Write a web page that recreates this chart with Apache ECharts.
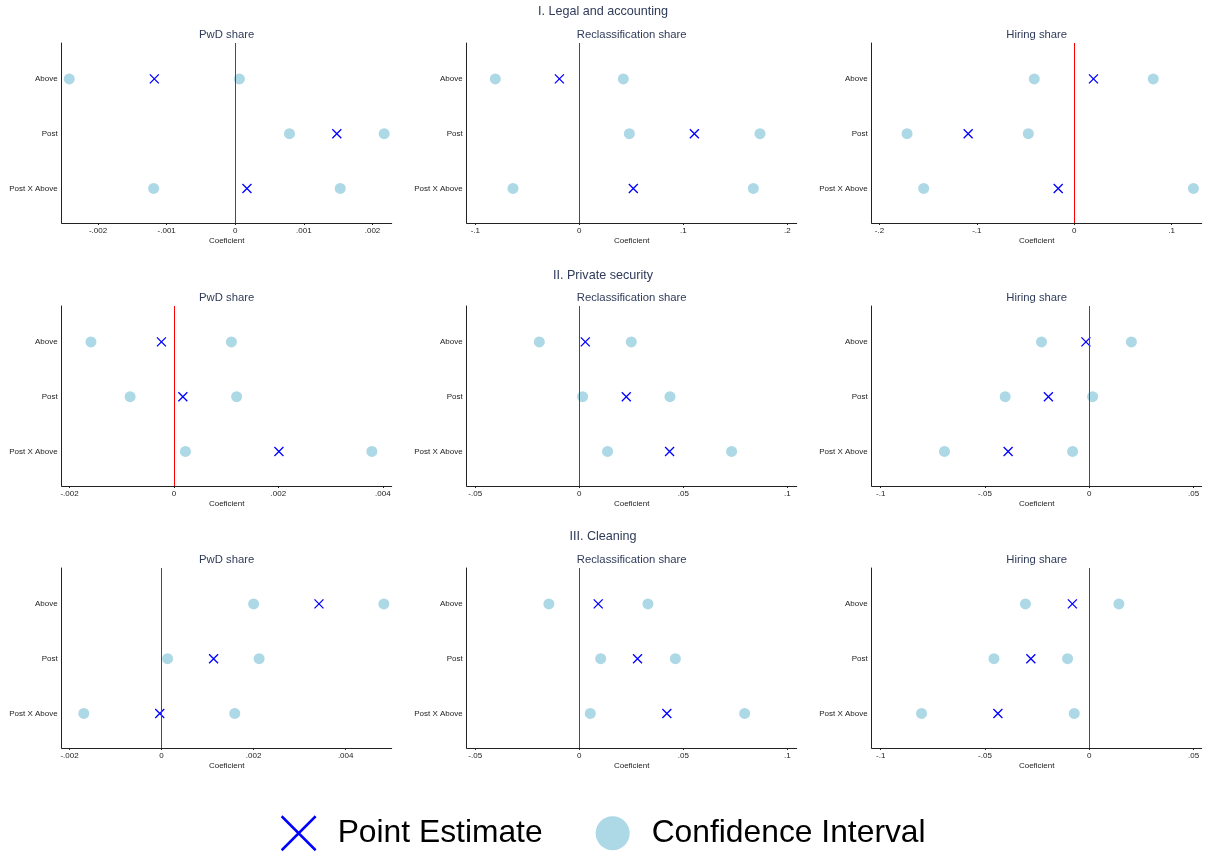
<!DOCTYPE html>
<html>
<head>
<meta charset="utf-8">
<title>Coefficient plots</title>
<script src="https://cdn.jsdelivr.net/npm/echarts@6/dist/echarts.min.js"></script>
<style>
  html, body { margin: 0; padding: 0; background: #fff; }
  #main { width: 1206px; height: 854px; }
</style>
</head>
<body>
<div id="main"></div>
<script>
// 行标签 / 标题
const categories = ['Above', 'Post', 'Post X Above']
const sections = ['I. Legal and accounting', 'II. Private security', 'III. Cleaning']
const outcomes = ['PwD share', 'Reclassification share', 'Hiring share']

// 每个分类: [下限, 点估计, 上限]
const legalPwd = [[-0.00242, -0.00118, 0.00006], [0.00079, 0.00148, 0.00217], [-0.00119, 0.00017, 0.00153]]
const legalReclass = [[-0.0808, -0.0192, 0.0423], [0.0481, 0.1106, 0.1737], [-0.0638, 0.0519, 0.1673]]
const legalHiring = [[-0.041, 0.0198, 0.0812], [-0.1717, -0.1089, -0.0471], [-0.1546, -0.0164, 0.1225]]
const securityPwd = [[-0.00159, -0.00024, 0.0011], [-0.00084, 0.00017, 0.0012], [0.00022, 0.00201, 0.00379]]
const securityReclass = [[-0.0192, 0.0029, 0.025], [0.0016, 0.0226, 0.0436], [0.0136, 0.0434, 0.0732]]
const securityHiring = [[-0.0229, -0.0016, 0.0202], [-0.0403, -0.0196, 0.0016], [-0.0694, -0.0389, -0.008]]
const cleaningPwd = [[0.002, 0.00342, 0.00483], [0.00013, 0.00113, 0.00212], [-0.00169, -0.00004, 0.00159]]
const cleaningReclass = [[-0.0146, 0.0091, 0.033], [0.0103, 0.028, 0.0462], [0.0053, 0.0421, 0.0795]]
const cleaningHiring = [[-0.0306, -0.0081, 0.0142], [-0.0457, -0.028, -0.0104], [-0.0804, -0.0438, -0.0072]]

// x 轴刻度
const ticksLegalPwd = [-0.002, -0.001, 0, 0.001, 0.002]
const ticksLegalReclass = [-0.1, 0, 0.1, 0.2]
const ticksLegalHiring = [-0.2, -0.1, 0, 0.1]
const ticksPwd = [-0.002, 0, 0.002, 0.004]
const ticksReclass = [-0.05, 0, 0.05, 0.1]
const ticksHiring = [-0.1, -0.05, 0, 0.05]

const panelData = [
  legalPwd, legalReclass, legalHiring,
  securityPwd, securityReclass, securityHiring,
  cleaningPwd, cleaningReclass, cleaningHiring
]
const panelTicks = [
  ticksLegalPwd, ticksLegalReclass, ticksLegalHiring,
  ticksPwd, ticksReclass, ticksHiring,
  ticksPwd, ticksReclass, ticksHiring
]
// x 轴范围 (Stata 会在刻度外留一点)
const panelRange = [
  [-0.00253, 0.00228], [-0.1083, 0.209], [-0.208, 0.131],
  [-0.00215, 0.00417], [-0.0541, 0.1045], [-0.1043, 0.0539],
  [-0.00217, 0.0050], [-0.0541, 0.1045], [-0.1043, 0.0539]
]

const FONT = 'Arial, "Liberation Sans", sans-serif'
const TITLE_COLOR = '#2f3b59'
const rowTop = [43, 306, 568]
const colLeft = [61.7, 466.7, 871.7]
const PLOT_W = 330
const PLOT_H = 180
const X_PATH = 'path://M0,0L10,10M10,0L0,10'

const fmt = function (v) {
  if (v === 0) return '0'
  return String(Number(v.toPrecision(4))).replace(/^(-?)0\./, '$1.')
}

const grid = []
const xAxis = []
const yAxis = []
const series = []
const title = []

panelData.forEach((rows, i) => {
  const r = Math.floor(i / 3)
  const c = i % 3
  grid.push({
    left: colLeft[c], top: rowTop[r], width: PLOT_W, height: PLOT_H,
    containLabel: false, outerBoundsMode: 'none'
  })
  xAxis.push({
    type: 'value', gridIndex: i,
    min: panelRange[i][0], max: panelRange[i][1],
    name: 'Coeficient', nameLocation: 'middle', nameGap: 14,
    nameTextStyle: { fontSize: 8, color: '#222', fontFamily: FONT },
    axisLine: { show: true, onZero: false, lineStyle: { color: '#222', width: 1 } },
    axisTick: { show: true, length: 2, customValues: panelTicks[i], lineStyle: { color: '#222' } },
    axisLabel: { customValues: panelTicks[i], formatter: fmt, fontSize: 8, color: '#222', margin: 4, fontFamily: FONT },
    splitLine: { show: false }
  })
  yAxis.push({
    type: 'value', gridIndex: i, inverse: true,
    min: 0.345, max: 3.63,
    axisLine: { show: true, onZero: false, lineStyle: { color: '#222', width: 1 } },
    axisTick: { show: false },
    axisLabel: {
      customValues: [1, 2, 3],
      formatter: v => categories[v - 1],
      fontSize: 8, color: '#222', margin: 4, fontFamily: FONT
    },
    splitLine: { show: false }
  })

  // 零线
  series.push({
    type: 'scatter', xAxisIndex: i, yAxisIndex: i, z: 1,
    data: [],
    silent: true,
    markLine: {
      silent: true, symbol: ['none', 'none'],
      label: { show: false },
      lineStyle: { color: '#ff0000', width: 1, type: 'solid' },
      emphasis: { disabled: true },
      data: [{ xAxis: 0 }]
    }
  })

  const ci = []
  const est = []
  rows.forEach((row, k) => {
    ci.push([row[0], k + 1], [row[2], k + 1])
    est.push([row[1], k + 1])
  })
  series.push({
    name: 'Confidence Interval', type: 'scatter', xAxisIndex: i, yAxisIndex: i, z: 2,
    symbol: 'circle', symbolSize: 11,
    itemStyle: { color: '#add8e6', opacity: 1 },
    emphasis: { disabled: true },
    data: ci
  })
  series.push({
    name: 'Point Estimate', type: 'scatter', xAxisIndex: i, yAxisIndex: i, z: 3,
    symbol: X_PATH, symbolSize: 9,
    itemStyle: { color: 'rgba(0,0,0,0)', borderColor: '#0000ff', borderWidth: 1.3, opacity: 1 },
    emphasis: { disabled: true },
    data: est
  })

  title.push({
    text: outcomes[c],
    left: colLeft[c] + PLOT_W / 2, top: rowTop[r] - 13.5, textAlign: 'center', padding: 0,
    textStyle: { fontSize: 11.3, fontWeight: 'normal', color: TITLE_COLOR, fontFamily: FONT }
  })
})

const sectionTop = [5.5, 269, 530.5]
sections.forEach((s, r) => {
  title.push({
    text: s,
    left: 603, top: sectionTop[r], textAlign: 'center', padding: 0,
    textStyle: { fontSize: 12.6, fontWeight: 'normal', color: TITLE_COLOR, fontFamily: FONT }
  })
})

const myChart = echarts.init(document.getElementById('main'), null, { renderer: 'canvas' })
myChart.setOption({
  animation: false,
  backgroundColor: '#fff',
  title: title,
  legend: {
    left: 'center', top: 810,
    itemWidth: 34, itemHeight: 34, itemGap: 53,
    selectedMode: false,
    textStyle: { fontSize: 31.8, color: '#000', fontFamily: FONT, padding: [0, 0, 0, 17] },
    data: [
      { name: 'Point Estimate', icon: X_PATH, itemStyle: { color: 'rgba(0,0,0,0)', borderColor: '#0000ff', borderWidth: 2.5 } },
      { name: 'Confidence Interval', icon: 'circle', itemStyle: { color: '#add8e6' } }
    ]
  },
  grid: grid,
  xAxis: xAxis,
  yAxis: yAxis,
  series: series
})
</script>
</body>
</html>
